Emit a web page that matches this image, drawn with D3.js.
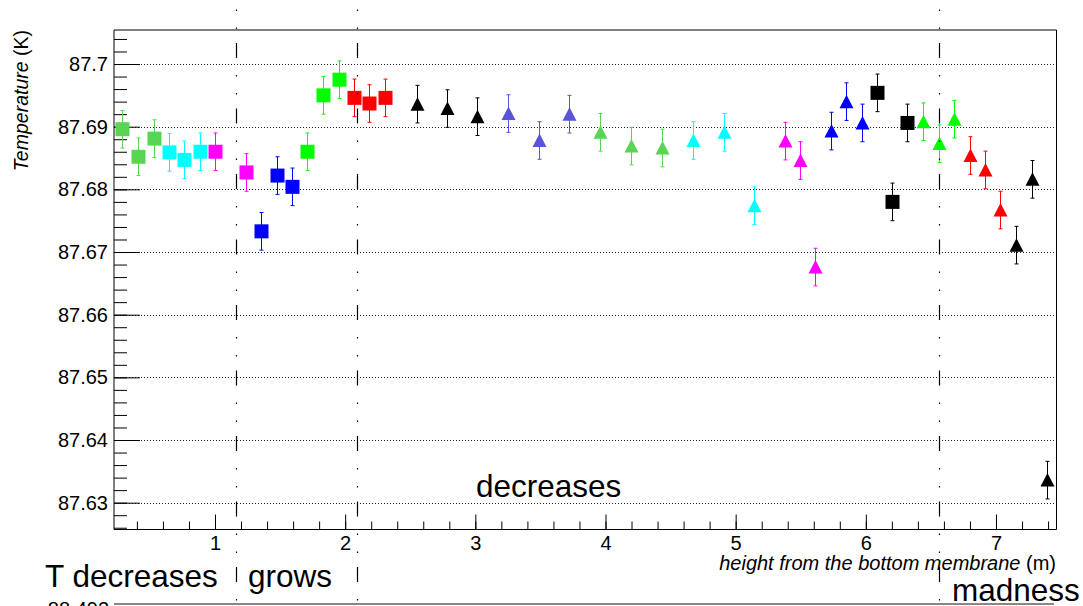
<!DOCTYPE html>
<html>
<head>
<meta charset="utf-8">
<script src="https://cdn.jsdelivr.net/npm/d3@7"></script>
<style>
  html, body { margin: 0; padding: 0; background: #fff; }
  svg { display: block; font-family: "Liberation Sans", Arial, Helvetica, sans-serif; }
</style>
</head>
<body>
<svg id="chart" width="1083" height="606"></svg>
<script>
// Sensor heights (m) and measured temperatures (K)
const heights = [0.288, 0.406, 0.529, 0.644, 0.764, 0.885, 1.000, 1.238, 1.356, 1.474,
  1.594, 1.709, 1.829, 1.950, 2.068, 2.185, 2.303, 2.553, 2.783, 3.013,
  3.252, 3.486, 3.721, 3.957, 4.198, 4.434, 4.669, 4.907, 5.138, 5.376,
  5.495, 5.613, 5.731, 5.846, 5.967, 6.084, 6.202, 6.320, 6.440, 6.560,
  6.678, 6.797, 6.915, 7.034, 7.152, 7.273, 7.390];
const temperatures = [87.6896, 87.6852, 87.6881, 87.6859, 87.6847, 87.6860, 87.6860, 87.6827, 87.6733, 87.6822,
  87.6804, 87.6860, 87.6950, 87.6975, 87.6946, 87.6937, 87.6946, 87.6936, 87.6929, 87.6916,
  87.6921, 87.6878, 87.6920, 87.6891, 87.6869, 87.6866, 87.6878, 87.6891, 87.6774, 87.6877,
  87.6846, 87.6676, 87.6893, 87.6940, 87.6906, 87.6954, 87.6780, 87.6906, 87.6908, 87.6873,
  87.6912, 87.6854, 87.6831, 87.6767, 87.6711, 87.6816, 87.6336];
const tempError = 0.003;

// Which sensor group each reading belongs to
const pointSeries = [0,0,0,1,1,1,2,2,3,3,3,4,4,4,5,5,5,6,6,6,7,7,7,8,8,8,9,9,9,
  10,10,10,11,11,11,12,12,12,13,13,13,14,14,14,15,15,15];
const seriesColors = ["#59d454","#00ffff","#ff00ff","#0000ff","#00ff00","#ff0000",
  "#000000","#5954d8","#59d454","#00ffff","#ff00ff","#0000ff",
  "#000000","#00ff00","#ff0000","#000000"];
const seriesMarkers = ["square","square","square","square","square","square",
  "triangle","triangle","triangle","triangle","triangle","triangle",
  "square","triangle","triangle","triangle"];

// Region boundaries (m) and axis ticks
const boundaries = [1.1614, 2.0909, 6.562];
const xMajorTicks = [1, 2, 3, 4, 5, 6, 7];
const xMinorTicks = d3.range(0.4, 7.41, 0.2).map(v => +v.toFixed(2));
const yMajorTicks = [87.63, 87.64, 87.65, 87.66, 87.67, 87.68, 87.69, 87.70];
const yMinorTicks = d3.range(87.626, 87.7051, 0.002).map(v => +v.toFixed(3));

const regionLabels = ["T decreases", "grows", "decreases", "madness"];

const svg = d3.select("#chart");
const L = 114, R = 1056.5, T = 30, B = 529.5;

const x = d3.scaleLinear().domain([0.2241, 7.4648]).range([L, R]);
const y = d3.scaleLinear().domain([87.62572, 87.70543]).range([B, T]);

// horizontal dotted grid
svg.append("g").selectAll("line").data(yMajorTicks).join("line")
  .attr("x1", L).attr("x2", R)
  .attr("y1", d => Math.round(y(d)) + 0.5).attr("y2", d => Math.round(y(d)) + 0.5)
  .attr("stroke", "#222").attr("stroke-width", 1).attr("stroke-dasharray", "1,2");

// y axis: minor + major ticks drawn inward
const yMinor = svg.append("g").attr("transform", `translate(${L},0)`)
  .call(d3.axisLeft(y).tickValues(yMinorTicks).tickSizeInner(-13).tickSizeOuter(0).tickFormat(""));
yMinor.select(".domain").remove();
const yMajor = svg.append("g").attr("transform", `translate(${L},0)`)
  .call(d3.axisLeft(y).tickValues(yMajorTicks).tickSizeInner(-26).tickSizeOuter(0).tickPadding(6)
    .tickFormat(d => d3.format("")(+d.toFixed(2))));
yMajor.select(".domain").remove();

// x axis
const xMinor = svg.append("g").attr("transform", `translate(0,${B})`)
  .call(d3.axisBottom(x).tickValues(xMinorTicks).tickSizeInner(-8).tickSizeOuter(0).tickFormat(""));
xMinor.select(".domain").remove();
const xMajor = svg.append("g").attr("transform", `translate(0,${B})`)
  .call(d3.axisBottom(x).tickValues(xMajorTicks).tickSizeInner(-15).tickSizeOuter(0).tickPadding(6));
xMajor.select(".domain").remove();

svg.selectAll(".tick line").attr("stroke", "#000").attr("stroke-width", 1);
svg.selectAll(".tick text").attr("font-size", 20).attr("fill", "#000")
  .attr("font-family", "'Liberation Sans', Arial, sans-serif");

// frame
svg.append("line").attr("x1", L).attr("x2", R).attr("y1", T).attr("y2", T).attr("stroke", "#000");
svg.append("line").attr("x1", L).attr("x2", L).attr("y1", T).attr("y2", B).attr("stroke", "#000");
svg.append("line").attr("x1", L).attr("x2", R).attr("y1", B).attr("y2", B).attr("stroke", "#000");
svg.append("line").attr("x1", R).attr("x2", R).attr("y1", T).attr("y2", B).attr("stroke", "#000");

// axis titles
const yt = svg.append("text").attr("transform", "translate(28,30) rotate(-90)")
  .attr("text-anchor", "end").attr("font-size", 19.5);
yt.append("tspan").attr("font-style", "italic").text("Temperature");
yt.append("tspan").text(" (K)");

const xt = svg.append("text").attr("x", 1056).attr("y", 570)
  .attr("text-anchor", "end").attr("font-size", 20);
xt.append("tspan").attr("font-style", "italic").text("height from the bottom membrane");
xt.append("tspan").text(" (m)");

// points with error bars
const pts = heights.map((h, i) => ({ h, t: temperatures[i], s: pointSeries[i] }));
const gPts = svg.append("g");
pts.forEach(p => {
  const cx = Math.round(x(p.h)) + 0.5;
  const cy = y(p.t);
  const col = seriesColors[p.s];
  const y0 = y(p.t - tempError), y1 = y(p.t + tempError);
  const g = gPts.append("g");
  g.append("line").attr("x1", cx).attr("x2", cx).attr("y1", y0).attr("y2", y1)
    .attr("stroke", col).attr("stroke-width", 1);
  [y0, y1].forEach(yy => g.append("line").attr("x1", cx - 2).attr("x2", cx + 2)
    .attr("y1", yy).attr("y2", yy).attr("stroke", col).attr("stroke-width", 1));
  if (seriesMarkers[p.s] === "square") {
    g.append("rect").attr("x", cx - 7).attr("y", cy - 7).attr("width", 14).attr("height", 14)
      .attr("fill", col);
  } else {
    g.append("path").attr("d", `M${cx},${cy - 7}L${cx + 7},${cy + 6.5}L${cx - 7},${cy + 6.5}Z`)
      .attr("fill", col);
  }
});

// region boundary lines
svg.append("g").selectAll("line").data(boundaries).join("line")
  .attr("x1", d => Math.round(x(d)) + 0.5).attr("x2", d => Math.round(x(d)) + 0.5)
  .attr("y1", -22.5).attr("y2", 606)
  .attr("stroke", "#000").attr("stroke-width", 1.2)
  .attr("stroke-dasharray", "15,17,1.5,16.5,1.5,14");

// region captions
const captionPos = [[45, 587], [248, 587], [476, 497], [952, 601]];
svg.append("g").selectAll("text").data(regionLabels).join("text")
  .attr("x", (d, i) => captionPos[i][0]).attr("y", (d, i) => captionPos[i][1])
  .attr("font-size", 31.5).attr("fill", "#000").text(d => d);

// top of the next panel below
svg.append("text").attr("x", 109).attr("y", 616).attr("text-anchor", "end")
  .attr("font-size", 20).text("88.492");
svg.append("line").attr("x1", L).attr("x2", 1054).attr("y1", 604).attr("y2", 604)
  .attr("stroke", "#888").attr("stroke-width", 2);
</script>
</body>
</html>
